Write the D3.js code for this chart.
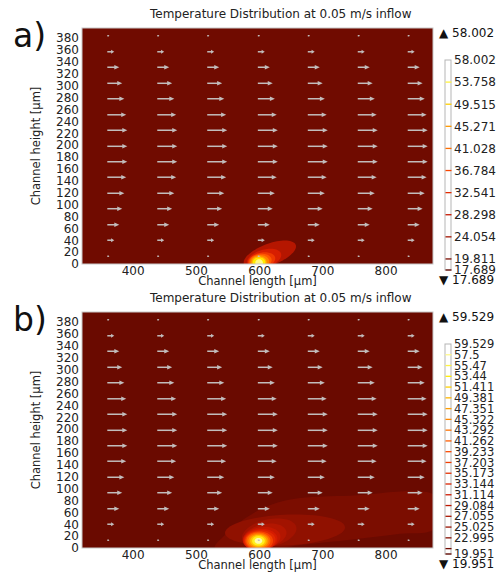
<!DOCTYPE html>
<meta charset="utf-8">
<script src="https://d3js.org/d3.v7.min.js"></script>
<style>
  body { margin: 0; background: #fff; }
  svg { font-family: "DejaVu Sans", sans-serif; }
</style>
<div id="chart"></div>
<script>

// ---- data ----
var xTicks = [400, 500, 600, 700, 800];
var yTicks = [0, 20, 40, 60, 80, 100, 120, 140, 160, 180, 200, 220, 240, 260, 280, 300, 320, 340, 360, 380];

// velocity arrows: tail positions (µm) and speed per row (m/s), bottom to top
var arrowX = [360, 439, 518, 598, 677, 756, 835];
var arrowY = [13, 40, 66, 93, 119, 146, 172, 198, 225, 251, 278, 304, 331, 357, 384];
var arrowSpeed = [0.008, 0.026, 0.045, 0.056, 0.064, 0.071, 0.075, 0.075, 0.075, 0.071, 0.064, 0.056, 0.045, 0.026, 0.008];

// panel a: colour bar levels (°C)
var levelsA = [17.689, 19.811, 24.054, 28.298, 32.541, 36.784, 41.028, 45.271, 49.515, 53.758, 58.002];
var labelsA = [17.689, 19.811, 24.054, 28.298, 32.541, 36.784, 41.028, 45.271, 49.515, 53.758, 58.002];
// panel a: isotherms [level, cx, cy, rx, ry, tilt°] in µm
var contoursA = [
  [24.054, 617, 16, 44, 18, 22],
  [28.298, 608, 9, 28, 15, 18],
  [32.541, 604, 6, 22, 13, 14],
  [36.784, 602, 5, 18, 12, 10],
  [41.028, 601, 4, 15, 11, 5],
  [45.271, 600, 3, 12, 10, 0],
  [49.515, 600, 3, 10, 8, 0],
  [53.758, 600, 2, 6, 6, 0]
];

// panel b
var levelsB = [19.951, 20.966, 22.995, 25.025, 27.055, 29.084, 31.114, 33.144, 35.173, 37.203, 39.233, 41.262, 43.292, 45.322, 47.351, 49.381, 51.411, 53.44, 55.47, 57.5, 59.529];
var labelsB = [19.951, 22.995, 25.025, 27.055, 29.084, 31.114, 33.144, 35.173, 37.203, 39.233, 41.262, 43.292, 45.322, 47.351, 49.381, 51.411, 53.44, 55.47, 57.5, 59.529];
var plumeB = [[530, 0], [546, 22], [578, 50], [617, 72], [665, 84], [744, 88], [875, 91], [900, 60], [875, 30], [823, 24], [744, 14], [665, 5], [633, 0]];
var contoursB = [
  [22.995, 641, 30, 95, 26, 3],
  [25.025, 616, 25, 44, 23, 14],
  [27.055, 609, 20, 35, 20, 14],
  [29.084, 604, 16, 30, 19, 10],
  [31.114, 602, 14, 27, 18, 6],
  [33.144, 601, 13, 25, 17, 4],
  [37.203, 600, 12, 22, 16, 0],
  [41.262, 599, 12, 19, 14, 0],
  [45.322, 599, 12, 16, 12, 0],
  [49.381, 599, 12, 13, 10, 0],
  [53.44, 599, 12, 10, 8, 0],
  [57.5, 599, 12, 6, 5, 0]
];

// ---- drawing ----
var width = 500, height = 575;
var svg = d3.select("#chart").append("svg")
  .attr("width", width).attr("height", height);

var heat = d3.scaleLinear()
  .domain([0, 0.1, 0.3, 0.5, 0.7, 0.85, 1])
  .range(["#650900", "#8f1100", "#d41a00", "#ff4d00", "#ffa000", "#ffee00", "#ffffd0"])
  .clamp(true);

var left = 82, right = 433, plotH = 236;

function bandColour(levels, lev) {
  var i = levels.indexOf(lev);
  var next = i < levels.length - 1 ? levels[i + 1] : lev;
  var lo = levels[0], hi = levels[levels.length - 1];
  return heat(((lev + next) / 2 - lo) / (hi - lo));
}

function drawPanel(id, top, letter, levels, labels, plume, contours) {
  var g = svg.append("g");
  var bottom = top + plotH;
  var x = d3.scaleLinear().domain([320, 875]).range([left, right]);
  var y = d3.scaleLinear().domain([0, 397]).range([bottom, top]);

  svg.append("clipPath").attr("id", "clip" + id)
    .append("rect").attr("x", left).attr("y", top)
    .attr("width", right - left).attr("height", bottom - top);

  var plot = g.append("g").attr("clip-path", "url(#clip" + id + ")");
  plot.append("rect")
    .attr("x", left).attr("y", top)
    .attr("width", right - left).attr("height", bottom - top)
    .attr("fill", bandColour(levels, levels[0]));

  if (plume) {
    plot.append("path")
      .attr("d", d3.line().x(function(d) { return x(d[0]); }).y(function(d) { return y(d[1]); })
        .curve(d3.curveCatmullRomClosed)(plume))
      .attr("fill", bandColour(levels, levels[1]));
  }

  var ell = d3.line().curve(d3.curveLinearClosed);
  contours.forEach(function(c) {
    var a = c[5] * Math.PI / 180, pts = [];
    for (var k = 0; k < 72; k++) {
      var t = k / 72 * 2 * Math.PI;
      var ex = c[3] * Math.cos(t), ey = c[4] * Math.sin(t);
      pts.push([x(c[1] + ex * Math.cos(a) - ey * Math.sin(a)),
                y(c[2] + ex * Math.sin(a) + ey * Math.cos(a))]);
    }
    plot.append("path").attr("d", ell(pts)).attr("fill", bandColour(levels, c[0]));
  });

  // arrows
  var len = d3.scaleLinear().domain([0, 0.075]).range([0, 20]);
  arrowY.forEach(function(yy, r) {
    arrowX.forEach(function(xx) {
      var L = len(arrowSpeed[r]);
      var x0 = x(xx), y0 = y(yy), x1 = x0 + L;
      var head = Math.min(5, L * 0.45), hw = Math.min(2.2, L * 0.3);
      plot.append("line")
        .attr("x1", x0).attr("y1", y0).attr("x2", x1 - head * 0.6).attr("y2", y0)
        .attr("stroke", "#c2bdbc").attr("stroke-width", 1.5);
      plot.append("path")
        .attr("d", "M" + x1 + "," + y0 + "L" + (x1 - head) + "," + (y0 - hw) + "L" + (x1 - head) + "," + (y0 + hw) + "Z")
        .attr("fill", "#c2bdbc");
    });
  });

  g.append("rect")
    .attr("x", left).attr("y", top)
    .attr("width", right - left).attr("height", bottom - top)
    .attr("fill", "none").attr("stroke", "#c8c8c8").attr("stroke-width", 1);

  // axes
  var xAxis = g.append("g").attr("transform", "translate(0," + bottom + ")")
    .call(d3.axisBottom(x).tickValues(xTicks).tickSize(0).tickPadding(2));
  var yAxis = g.append("g").attr("transform", "translate(" + left + ",0)")
    .call(d3.axisLeft(y).tickValues(yTicks).tickSize(0).tickPadding(3));
  [xAxis, yAxis].forEach(function(ax) {
    ax.select(".domain").remove();
    ax.selectAll("text").attr("font-size", 12).attr("fill", "#222")
      .attr("font-family", "DejaVu Sans, sans-serif");
  });

  g.append("text").attr("x", (left + right) / 2).attr("y", bottom + 21)
    .attr("text-anchor", "middle").attr("font-size", 11.5).attr("fill", "#222")
    .text("Channel length [µm]");
  g.append("text")
    .attr("transform", "translate(40," + (top + bottom) / 2 + ") rotate(-90)")
    .attr("text-anchor", "middle").attr("font-size", 11.5).attr("fill", "#222")
    .text("Channel height [µm]");
  g.append("text").attr("x", 150).attr("y", top - 10)
    .attr("font-size", 12).attr("fill", "#222")
    .text("Temperature Distribution at 0.05 m/s inflow");
  g.append("text").attr("x", 13).attr("y", top + 19)
    .attr("font-size", 33).attr("fill", "#111")
    .text(letter);

  // colour bar
  var lo = levels[0], hi = levels[levels.length - 1];
  var cb = d3.scaleLinear().domain([lo, hi]).range([top + 242, top + 32]);
  g.append("rect").attr("x", 445).attr("y", top + 32)
    .attr("width", 6).attr("height", 210)
    .attr("fill", "#fff").attr("stroke", "#b5b5b5").attr("stroke-width", 1);
  levels.forEach(function(v) {
    if (v === hi) return;
    g.append("line").attr("x1", 445.5).attr("x2", 451.5)
      .attr("y1", cb(v)).attr("y2", cb(v))
      .attr("stroke", heat((v - lo) / (hi - lo))).attr("stroke-width", 1.3);
  });
  var fs = labels.length > 12 ? 11.5 : 12;
  labels.forEach(function(v) {
    g.append("text").attr("x", 454).attr("y", cb(v)).attr("dy", "0.36em")
      .attr("font-size", fs).attr("fill", "#222").text(v);
  });
  g.append("text").attr("x", 439).attr("y", top + 9)
    .attr("font-size", 12).attr("fill", "#111").text("\u25B2 " + hi);
  g.append("text").attr("x", 439).attr("y", top + 256)
    .attr("font-size", 12).attr("fill", "#111").text("\u25BC " + lo);
}

drawPanel("a", 28, "a)", levelsA, labelsA, null, contoursA);
drawPanel("b", 312, "b)", levelsB, labelsB, plumeB, contoursB);

</script>
